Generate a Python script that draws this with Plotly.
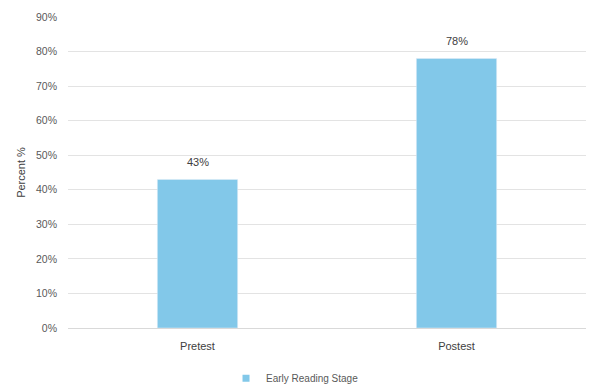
import plotly.graph_objects as go

categories = ["Pretest", "Postest"]
values = [0.43, 0.78]
labels = ["43%", "78%"]
series_name = "Early Reading Stage"
tick_vals = [i / 10 for i in range(10)]
tick_text = [f"{i*10}%" for i in range(10)]
bar_color = "#82C8E9"

fig = go.Figure()
fig.add_trace(go.Bar(
    x=categories, y=values, name=series_name,
    marker=dict(color=bar_color),
    width=0.31, showlegend=False,
))
# legend entry with a small square swatch
fig.add_trace(go.Scatter(
    x=[None], y=[None], mode="markers", name=series_name,
    marker=dict(symbol="square", size=7, color=bar_color),
))
for c, v, t in zip(categories, values, labels):
    fig.add_annotation(x=c, y=v, text=t, showarrow=False, yshift=17,
                       font=dict(size=11, color="#404040"))

fig.update_layout(
    width=596, height=390,
    margin=dict(l=68, r=10, t=17, b=62, autoexpand=False),
    paper_bgcolor="white", plot_bgcolor="white",
    font=dict(family="Liberation Sans, Arial, sans-serif", size=11, color="#595959"),
    showlegend=True,
    legend=dict(orientation="h", x=0.495, xanchor="center", y=0.03, yanchor="middle",
                yref="container", xref="container", itemwidth=30,
                font=dict(size=10, color="#595959")),
    xaxis=dict(showgrid=False, showline=True, linecolor="#D9D9D9", ticks="",
               ticklabelstandoff=8,
               tickfont=dict(size=11, color="#404040")),
    yaxis=dict(range=[0, 0.9], tickvals=tick_vals + [0.9], ticktext=tick_text + ["90%"],
               showgrid=True, gridcolor="#E3E3E3", zeroline=False, showline=False,
               ticklabelstandoff=10,
               tickfont=dict(size=10.5, color="#595959"),
               title=dict(text="Percent %", font=dict(size=11, color="#404040"), standoff=8)),
    bargap=0.69,
)

fig.write_html("out.html")
